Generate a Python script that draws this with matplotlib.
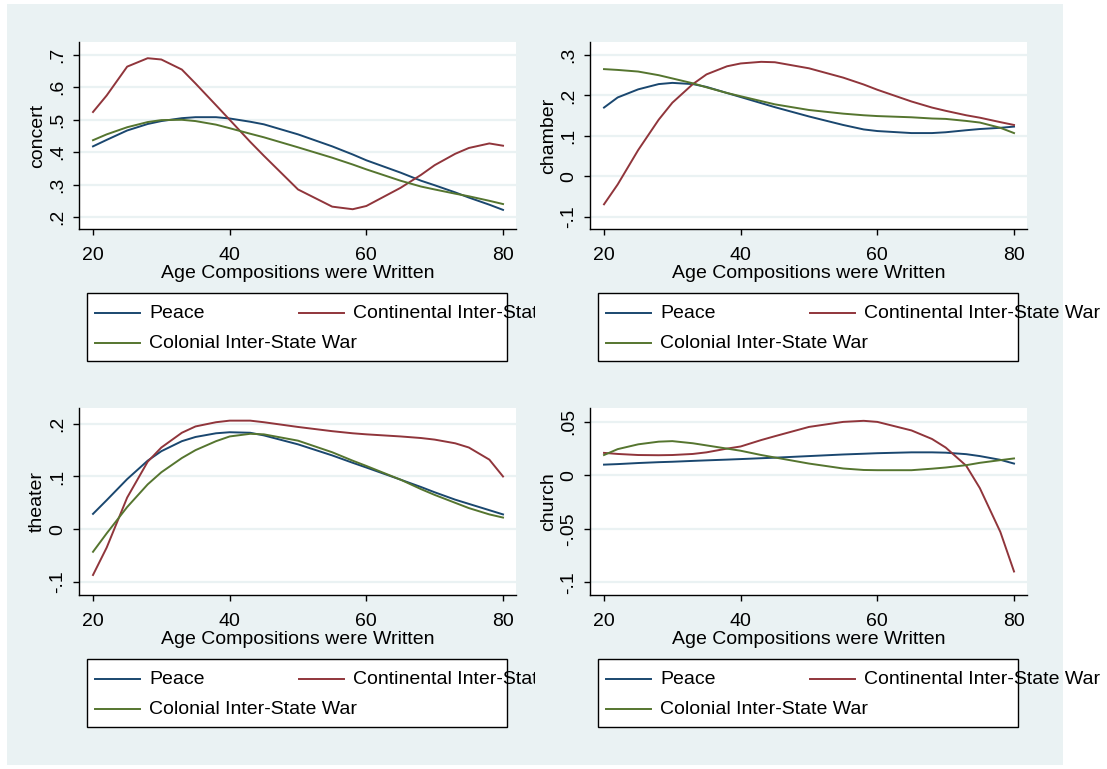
"""Four Stata-style panels: fitted composition shares by age, per war context."""
import matplotlib
matplotlib.use('Agg')
import matplotlib.pyplot as plt
from matplotlib.patches import Rectangle
from matplotlib.lines import Line2D
from matplotlib.transforms import Bbox
from matplotlib.ticker import FixedLocator, FuncFormatter

plt.rcParams['font.family'] = ['Liberation Sans', 'DejaVu Sans']

ages = [20, 22, 25, 28, 30, 33, 35, 38, 40, 43, 45, 50, 55, 58, 60, 65, 68, 70, 73, 75, 78, 80]

series_names = ['Peace', 'Continental Inter-State War', 'Colonial Inter-State War']

concert_peace = [.418, .438, .467, .487, .496, .505, .508, .508, .504, .494, .486, .455, .418, .393, .375, .337, .312, .298, .276, .260, .238, .222]
concert_cont = [.524, .575, .664, .690, .686, .655, .612, .545, .500, .432, .389, .285, .232, .224, .234, .290, .330, .360, .395, .413, .427, .420]
concert_col = [.437, .455, .477, .493, .499, .500, .496, .485, .474, .457, .446, .415, .383, .362, .347, .312, .294, .285, .272, .264, .250, .240]

chamber_peace = [.170, .195, .215, .228, .231, .228, .221, .206, .196, .181, .171, .148, .127, .116, .112, .107, .107, .109, .114, .117, .120, .123]
chamber_cont = [-.069, -.020, .065, .140, .182, .228, .252, .272, .279, .283, .282, .267, .244, .227, .214, .185, .170, .162, .151, .145, .134, .127]
chamber_col = [.265, .263, .259, .250, .242, .230, .220, .206, .198, .186, .178, .164, .155, .151, .149, .146, .143, .142, .137, .133, .120, .107]

theater_peace = [.029, .055, .095, .130, .148, .167, .175, .182, .184, .183, .178, .161, .140, .126, .117, .094, .080, .070, .056, .048, .036, .028]
theater_cont = [-.087, -.035, .060, .128, .155, .183, .195, .203, .206, .206, .203, .194, .186, .182, .180, .176, .173, .170, .163, .155, .132, .100]
theater_col = [-.043, -.008, .042, .085, .108, .135, .150, .167, .176, .181, .180, .168, .146, .130, .120, .094, .076, .065, .050, .040, .028, .022]

church_peace = [.010, .0105, .0115, .0123, .0127, .0135, .014, .0147, .0152, .016, .0165, .018, .0195, .0202, .0207, .0215, .0215, .0212, .0198, .018, .0145, .011]
church_cont = [.021, .020, .019, .0188, .019, .020, .0215, .025, .027, .033, .0366, .0453, .050, .051, .050, .042, .034, .026, .009, -.012, -.053, -.090]
church_col = [.019, .0245, .029, .0315, .032, .030, .028, .025, .023, .019, .0167, .011, .0064, .005, .0048, .0048, .0062, .0073, .0095, .0117, .0142, .0158]

x_ticks = [20, 40, 60, 80]
concert_ticks = [.2, .3, .4, .5, .6, .7]
chamber_ticks = [-.1, 0, .1, .2, .3]
theater_ticks = [-.1, 0, .1, .2]
church_ticks = [-.1, -.05, 0, .05]

colors = ['#1A476F', '#90353B', '#55752F']
bg = '#EAF2F3'
W, H = 1107, 769

fig = plt.figure(figsize=(W / 100, H / 100), dpi=100, facecolor='white')
fig.patches.append(Rectangle((7 / W, 1 - 765 / H), 1056 / W, 761 / H,
                             transform=fig.transFigure, facecolor=bg,
                             edgecolor='none', zorder=-10))


def stata_fmt(v, pos=None):
    s = f"{v:g}"
    if s.startswith('0.'):
        s = s[1:]
    elif s.startswith('-0.'):
        s = '-' + s[2:]
    return s


def px_axes(left, right, top, bottom):
    return [left / W, 1 - bottom / H, (right - left) / W, (bottom - top) / H]


panels = [
    ('concert', [concert_peace, concert_cont, concert_col], concert_ticks, (.163, .740), 79, 42),
    ('chamber', [chamber_peace, chamber_cont, chamber_col], chamber_ticks, (-.130, .332), 590, 42),
    ('theater', [theater_peace, theater_cont, theater_col], theater_ticks, (-.125, .230), 79, 408),
    ('church', [church_peace, church_cont, church_col], church_ticks, (-.112, .063), 590, 408),
]

for name, ys, yticks, ylim, left, top in panels:
    ax = fig.add_axes(px_axes(left, left + 437, top, top + 187))
    ax.set_facecolor('white')
    for y, c in zip(ys, colors):
        ax.plot(ages, y, color=c, lw=1.4, solid_joinstyle='round')
    ax.set_xlim(17.95, 81.9)
    ax.set_ylim(*ylim)
    ax.xaxis.set_major_locator(FixedLocator(x_ticks))
    ax.yaxis.set_major_locator(FixedLocator(yticks))
    ax.yaxis.set_major_formatter(FuncFormatter(stata_fmt))
    ax.grid(axis='y', color=bg, lw=1.6)
    ax.set_axisbelow(True)
    for s in ['top', 'right']:
        ax.spines[s].set_visible(False)
    for s in ['left', 'bottom']:
        ax.spines[s].set_color('black')
        ax.spines[s].set_linewidth(1.0)
    ax.tick_params(direction='out', length=4, width=1, labelsize=14, colors='black')
    ax.tick_params(axis='x', pad=9)
    ax.tick_params(axis='y', pad=5)
    for lab in ax.get_yticklabels():
        lab.set_rotation(90)
        lab.set_va('center')
        lab.set_ha('right')
    ax.set_xlabel('Age Compositions were Written', fontsize=14, labelpad=1)
    ax.set_ylabel(name, fontsize=14)
    ax.yaxis.set_label_coords(-33 / 436, 0.5)

    # legend box drawn by hand: Stata keeps a fixed column layout
    bx0 = left + 8
    by0 = top + 251
    fig.patches.append(Rectangle((bx0 / W, 1 - (by0 + 68) / H), 420 / W, 68 / H,
                                 transform=fig.transFigure, facecolor='white',
                                 edgecolor='black', lw=1.0, zorder=1))
    clip = Bbox([[0, 0], [535, H]]) if left < 500 else None
    rows = [(0, 0), (1, 0), (0, 1)]
    for (col, row), lab, c in zip(rows, series_names, colors):
        hx = bx0 + 8 + col * 204
        hy = by0 + 20 + row * 30
        fig.lines.append(Line2D([hx / W, (hx + 45) / W], [1 - hy / H, 1 - hy / H],
                                transform=fig.transFigure, color=c, lw=1.4))
        t = fig.text((hx + 54) / W, 1 - hy / H, lab, fontsize=14, va='center',
                     ha='left', zorder=3)
        if clip is not None:
            t.set_clip_box(clip)
            t.set_clip_on(True)

fig.savefig('out.png', dpi=100, facecolor='white')
